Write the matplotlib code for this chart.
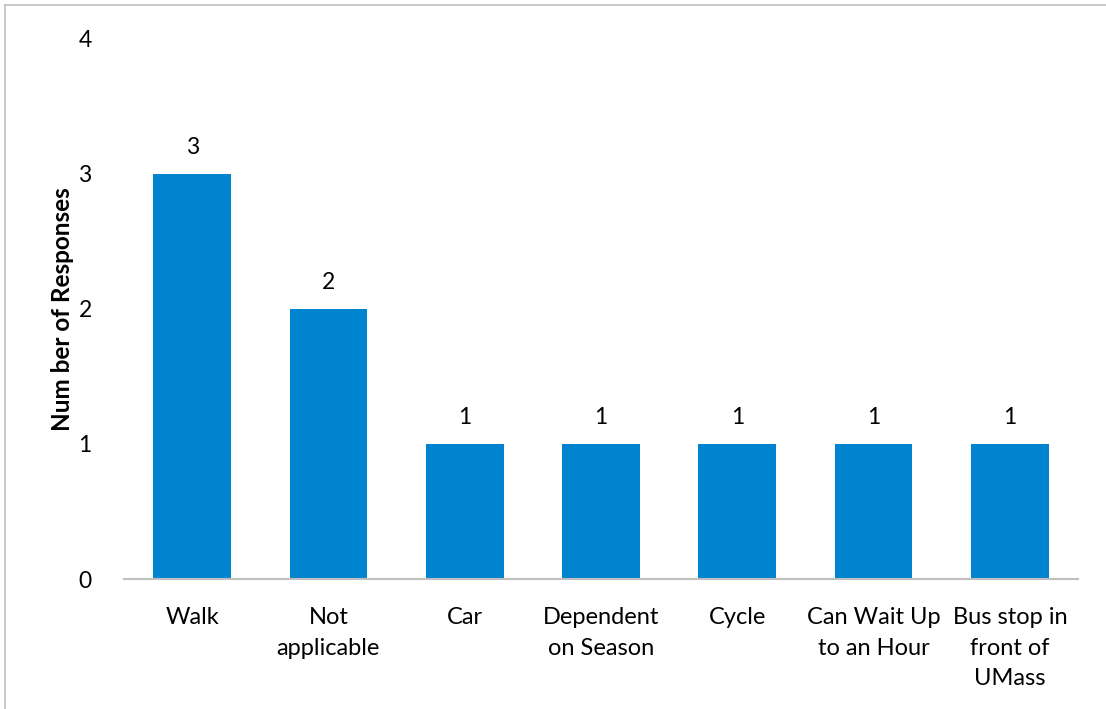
import matplotlib.pyplot as plt
from matplotlib.lines import Line2D

plt.rcParams['font.family'] = ['Lato', 'DejaVu Sans']

categories = ['Walk', 'Not\napplicable', 'Car', 'Dependent\non Season', 'Cycle',
              'Can Wait Up\nto an Hour', 'Bus stop in\nfront of\nUMass']
responses = [3, 2, 1, 1, 1, 1, 1]
yticks = [0, 1, 2, 3, 4]

W, H = 1106, 709
fig = plt.figure(figsize=(W / 100, H / 100), dpi=100)
# axes placed in pixel terms: x 124..1078, y(0)=579, y(4)=39
ax = fig.add_axes([124 / W, 1 - 579 / H, (1078 - 124) / W, (579 - 39) / H])

x = range(len(categories))
bars = ax.bar(x, responses, width=0.57, color='#0084CF')
for b, v in zip(bars, responses):
    ax.text(b.get_x() + b.get_width() / 2, v + 0.12, str(v), ha='center', va='bottom',
            fontsize=16.5, color='black')

ax.set_xlim(-0.5, len(categories) - 0.5)
ax.set_ylim(0, 4)
ax.set_yticks(yticks)
ax.set_xticks(list(x))
ax.set_xticklabels(categories, fontsize=17, linespacing=1.58, va='top')
ax.tick_params(axis='x', length=0, pad=20)
ax.tick_params(axis='y', length=0, pad=28, labelsize=16.5)
for lbl in ax.get_yticklabels():
    lbl.set_horizontalalignment('center')

for s in ['top', 'right', 'left']:
    ax.spines[s].set_visible(False)
ax.spines['bottom'].set_color('#BFBFBF')
ax.spines['bottom'].set_linewidth(1.5)

fig.text(63 / W, 1 - 309 / H, 'Num ber of Responses', rotation=90, ha='center', va='center',
         fontsize=17.5, fontweight='bold')

# chart border (top and left edges visible)
fig.add_artist(Line2D([5 / W, 1], [1 - 5 / H, 1 - 5 / H], color='#BFBFBF', lw=1.2))
fig.add_artist(Line2D([5 / W, 5 / W], [0, 1 - 5 / H], color='#BFBFBF', lw=1.2))

fig.savefig('out.png', dpi=100)
